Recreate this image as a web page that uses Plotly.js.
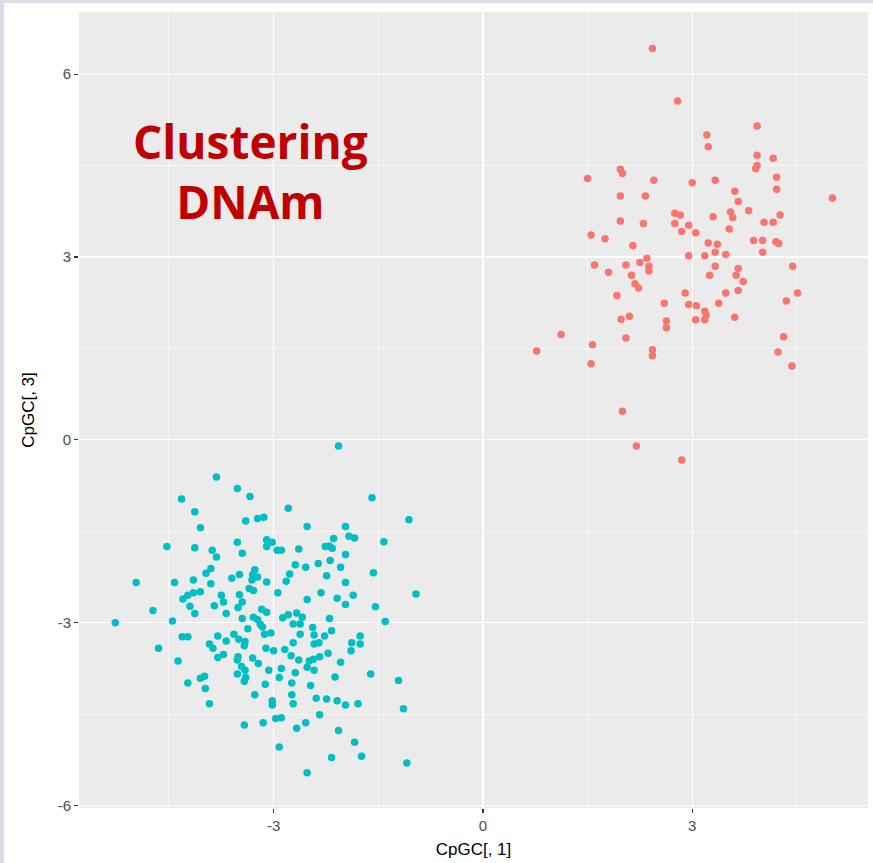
<!DOCTYPE html>
<html>
<head>
<meta charset="utf-8">
<script src="https://cdn.plot.ly/plotly-3.0.1.min.js"></script>
<style>
  html, body { margin: 0; padding: 0; background: #d8dde8; width: 873px; height: 863px; overflow: hidden; }
  #chart { position: absolute; left: 4px; top: 3px; width: 869px; height: 860px; background: #ffffff; }
</style>
</head>
<body>
<div id="chart"></div>
<script>
// Cluster 1 (red)
const redX = [2.43,2.79,1.97,2.00,1.50,2.45,1.97,2.33,2.75,1.97,2.30,2.75,3.93,3.21,3.23,3.93,4.16,3.93,3.91,4.21,
  3.00,3.33,4.21,3.61,3.66,5.01,2.83,3.55,3.58,3.81,3.30,4.26,4.03,4.16,2.95,2.85,3.05,3.53,3.23,3.36,
  3.88,4.01,4.20,4.24,2.95,3.18,3.33,3.48,4.01,3.33,3.66,4.44,3.25,3.63,3.73,2.90,3.48,3.66,4.51,4.35,
  1.55,1.75,2.15,2.35,2.25,1.60,2.05,2.38,2.38,1.80,2.13,2.18,2.23,1.92,2.60,2.95,1.98,2.10,2.63,2.63,
  1.12,2.05,1.57,0.77,2.43,2.43,1.55,2.00,2.20,2.85,3.06,3.38,3.18,3.20,3.05,3.18,3.61,4.31,4.23,4.43];
const redY = [6.42,5.56,4.44,4.37,4.29,4.26,4.00,4.00,3.72,3.59,3.55,3.55,5.15,5.00,4.81,4.67,4.62,4.50,4.45,4.31,
  4.22,4.26,4.11,4.08,3.91,3.97,3.69,3.74,3.65,3.76,3.66,3.69,3.57,3.57,3.52,3.42,3.40,3.46,3.23,3.21,
  3.27,3.27,3.25,3.22,3.02,3.02,3.08,3.04,3.08,2.85,2.81,2.85,2.70,2.70,2.60,2.41,2.41,2.45,2.41,2.28,
  3.36,3.30,3.19,2.98,2.91,2.87,2.87,2.85,2.77,2.75,2.70,2.56,2.49,2.37,2.24,2.22,1.98,2.03,1.95,1.84,
  1.73,1.67,1.56,1.46,1.48,1.38,1.25,0.47,-0.10,-0.33,2.20,2.24,2.11,2.05,1.97,1.97,2.01,1.69,1.44,1.21];

// Cluster 2 (cyan)
const cyanX = [-3.82,-3.52,-3.34,-4.32,-4.13,-3.40,-3.23,-3.14,-4.05,-4.53,-4.13,-3.88,-3.82,-3.52,-3.45,-3.10,-3.10,-3.90,-3.97,-4.97,
  -4.42,-4.15,-3.90,-3.60,-3.49,-3.27,-3.30,-3.23,-3.31,-3.10,-3.35,-3.29,-4.30,-4.23,-4.15,-4.05,-3.75,-3.72,-3.49,-3.45,
  -3.51,-3.85,-4.20,-3.17,-4.73,-2.07,-1.59,-2.79,-1.06,-2.52,-1.97,-3.02,-2.95,-2.89,-2.64,-2.14,-2.26,-2.20,-2.16,-1.92,
  -1.84,-1.42,-1.97,-2.69,-2.54,-2.36,-2.19,-2.04,-2.77,-2.24,-1.57,-2.82,-1.97,-2.94,-2.52,-2.32,-2.09,-1.86,-1.97,-1.54,
  -0.96,-5.27,-4.45,-4.13,-3.68,-3.45,-3.29,-3.10,-3.23,-3.19,-3.16,-3.37,-3.13,-3.57,-4.31,-4.23,-3.80,-3.68,-3.50,-3.41,
  -3.42,-3.92,-3.87,-4.65,-3.11,-3.72,-3.80,-3.51,-3.52,-3.30,-3.22,-4.37,-3.46,-3.41,-3.52,-3.07,-4.05,-3.99,-3.40,-3.42,
  -4.23,-3.98,-3.12,-3.27,-3.92,-3.42,-3.15,-1.40,-2.87,-2.79,-2.67,-2.59,-2.72,-2.62,-2.20,-3.04,-2.44,-2.17,-2.62,-2.42,
  -2.27,-1.76,-2.72,-2.42,-2.35,-1.88,-1.76,-3.00,-2.84,-1.89,-2.22,-2.75,-2.64,-2.34,-2.43,-2.49,-2.04,-2.52,-2.42,-2.89,
  -2.69,-1.61,-2.12,-1.21,-2.92,-2.74,-2.47,-2.74,-3.02,-3.02,-2.72,-2.39,-2.24,-2.09,-1.97,-1.79,-1.14,-2.34,-2.97,-2.89,
  -2.54,-2.67,-2.07,-1.84,-2.92,-2.17,-1.74,-1.09,-2.52];
const cyanY = [-0.61,-0.80,-0.93,-0.97,-1.18,-1.33,-1.29,-1.27,-1.44,-1.75,-1.77,-1.81,-1.92,-1.68,-1.86,-1.64,-1.75,-2.11,-2.19,-2.34,
  -2.34,-2.30,-2.36,-2.27,-2.21,-2.13,-2.21,-2.25,-2.30,-2.33,-2.44,-2.47,-2.61,-2.55,-2.51,-2.49,-2.55,-2.66,-2.54,-2.66,
  -2.75,-2.72,-2.73,-2.78,-2.80,-0.10,-0.95,-1.12,-1.31,-1.42,-1.42,-1.68,-1.81,-1.81,-1.79,-1.62,-1.75,-1.74,-1.78,-1.58,
  -1.61,-1.67,-1.88,-2.05,-2.09,-2.03,-1.98,-2.09,-2.20,-2.23,-2.18,-2.32,-2.34,-2.51,-2.62,-2.51,-2.60,-2.55,-2.70,-2.74,
  -2.53,-3.00,-2.97,-2.85,-2.85,-2.93,-2.91,-2.83,-2.95,-3.03,-3.07,-3.10,-3.19,-3.19,-3.23,-3.23,-3.22,-3.30,-3.27,-3.31,
  -3.38,-3.35,-3.42,-3.42,-3.42,-3.52,-3.57,-3.56,-3.61,-3.58,-3.67,-3.63,-3.72,-3.78,-3.84,-3.78,-3.91,-3.88,-3.90,-3.96,
  -3.99,-4.08,-4.01,-4.18,-4.33,-4.68,-4.64,-2.98,-2.92,-2.87,-2.84,-2.91,-3.02,-3.02,-2.93,-3.17,-3.08,-3.13,-3.19,-3.20,
  -3.22,-3.22,-3.33,-3.35,-3.33,-3.33,-3.35,-3.46,-3.44,-3.46,-3.50,-3.54,-3.61,-3.56,-3.60,-3.63,-3.65,-3.73,-3.78,-3.75,
  -3.82,-3.84,-3.89,-3.95,-3.90,-3.99,-4.03,-4.18,-4.28,-4.35,-4.33,-4.24,-4.25,-4.28,-4.35,-4.33,-4.41,-4.51,-4.57,-4.56,
  -4.64,-4.73,-4.77,-4.96,-5.04,-5.21,-5.19,-5.30,-5.46];

const xTickVals = [-3, 0, 3];
const xTickText = ['-3', '0', '3'];
const yTickVals = [-6, -3, 0, 3, 6];
const yTickText = ['-6', '-3', '0', '3', '6'];
const titleLines = ['Clustering', 'DNAm'];
const xTitle = 'CpGC[, 1]';
const yTitle = 'CpGC[, 3]';

const traces = [
  { x: redX, y: redY, type: 'scatter', mode: 'markers',
    marker: { color: '#F8766D', size: 7.5 }, showlegend: false },
  { x: cyanX, y: cyanY, type: 'scatter', mode: 'markers',
    marker: { color: '#00BFC4', size: 7.5 }, showlegend: false }
];

const axisCommon = {
  showgrid: true, gridcolor: '#ffffff', gridwidth: 1.2,
  zeroline: false, showline: false,
  ticks: 'outside', ticklen: 4, tickwidth: 1.2, tickcolor: '#333333',
  tickfont: { family: 'Liberation Sans, Arial, sans-serif', size: 15, color: '#4D4D4D' },
  automargin: false
};

const layout = {
  width: 869, height: 860,
  margin: { l: 75, r: 5, t: 9, b: 55 },
  paper_bgcolor: '#ffffff',
  plot_bgcolor: '#EBEBEB',
  xaxis: Object.assign({}, axisCommon, {
    range: [-5.79, 5.52],
    tickmode: 'array', tickvals: xTickVals, ticktext: xTickText,
    minor: { dtick: 1.5, tick0: 0, showgrid: true, gridcolor: '#ffffff', gridwidth: 0.6, ticks: '' },
    title: { text: xTitle, font: { family: 'Liberation Sans, Arial, sans-serif', size: 17, color: '#000000' }, standoff: 10 }
  }),
  yaxis: Object.assign({}, axisCommon, {
    range: [-6.04, 7.02],
    tickmode: 'array', tickvals: yTickVals, ticktext: yTickText,
    minor: { dtick: 1.5, tick0: 0, showgrid: true, gridcolor: '#ffffff', gridwidth: 0.6, ticks: '' },
    title: { text: yTitle, font: { family: 'Liberation Sans, Arial, sans-serif', size: 17, color: '#000000' }, standoff: 18 }
  }),
  annotations: [{
    x: -3.33, y: 4.41, xref: 'x', yref: 'y',
    text: titleLines.join('<br>'),
    showarrow: false, align: 'center',
    xanchor: 'center', yanchor: 'middle',
    font: { family: 'Open Sans, sans-serif', size: 46, color: '#C00000', weight: 700 }
  }]
};

Plotly.newPlot('chart', traces, layout, { staticPlot: true, displayModeBar: false });
</script>
</body>
</html>
